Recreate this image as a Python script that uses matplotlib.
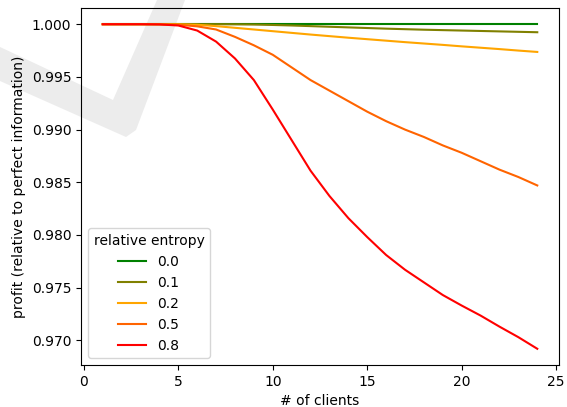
import matplotlib
matplotlib.use('Agg')
import matplotlib.pyplot as plt
from matplotlib.patches import Polygon

# data
clients = list(range(1, 25))
entropy_labels = ['0.0', '0.1', '0.2', '0.5', '0.8']
colors = ['green', 'olive', 'orange', '#ff6400', 'red']

profit_00 = [1.0] * 24
profit_01 = [1.0, 1.0, 1.0, 1.0, 1.0, 1.0, 1.0, 0.99999, 0.99997, 0.99993,
             0.99988, 0.99982, 0.99976, 0.9997, 0.99964, 0.99958, 0.99953, 0.99948,
             0.99944, 0.9994, 0.99936, 0.99932, 0.99928, 0.99924]
profit_02 = [1.0, 1.0, 1.0, 1.0, 1.0, 0.99995, 0.99982, 0.99966, 0.9995, 0.99934,
             0.99918, 0.99902, 0.99887, 0.99872, 0.99858, 0.99844, 0.9983, 0.99817,
             0.99804, 0.9979, 0.99777, 0.99764, 0.9975, 0.99737]
profit_05 = [1.0, 1.0, 1.0, 1.0, 0.99995, 0.9998, 0.9995, 0.9988, 0.998, 0.9971,
             0.9959, 0.9947, 0.9937, 0.9927, 0.9917, 0.9908, 0.99, 0.9893,
             0.9885, 0.9878, 0.987, 0.9862, 0.9855, 0.9847]
profit_08 = [1.0, 1.0, 1.0, 0.99998, 0.99988, 0.9994, 0.99835, 0.99675, 0.9947, 0.9919,
             0.989, 0.9861, 0.9837, 0.9816, 0.9798, 0.9781, 0.9767, 0.9755,
             0.9743, 0.9733, 0.97235, 0.9713, 0.9703, 0.9692]
series = [profit_00, profit_01, profit_02, profit_05, profit_08]

W, H = 567, 407
fig = plt.figure(figsize=(W / 100, H / 100), dpi=100)
ax = fig.add_axes([81 / W, 1 - 365 / H, (559 - 81) / W, (365 - 8) / H])
ax.set_facecolor('none')

# light grey check-mark watermark behind the chart
wm = [(0, 47), (113, 100), (157, 0), (185, 0), (136, 130), (126, 137), (0, 81)]
fig.add_artist(Polygon([(x / W, 1 - y / H) for x, y in wm], closed=True,
                       transform=fig.transFigure, facecolor='#ececec',
                       edgecolor='none', zorder=-1))

for vals, lab, c in zip(series, entropy_labels, colors):
    ax.plot(clients, vals, color=c, label=lab, linewidth=1.5)

ax.set_xlabel('# of clients')
ax.set_ylabel('profit (relative to perfect information)')
ax.legend(title='relative entropy', loc='lower left')

fig.savefig('out.png', dpi=100)
